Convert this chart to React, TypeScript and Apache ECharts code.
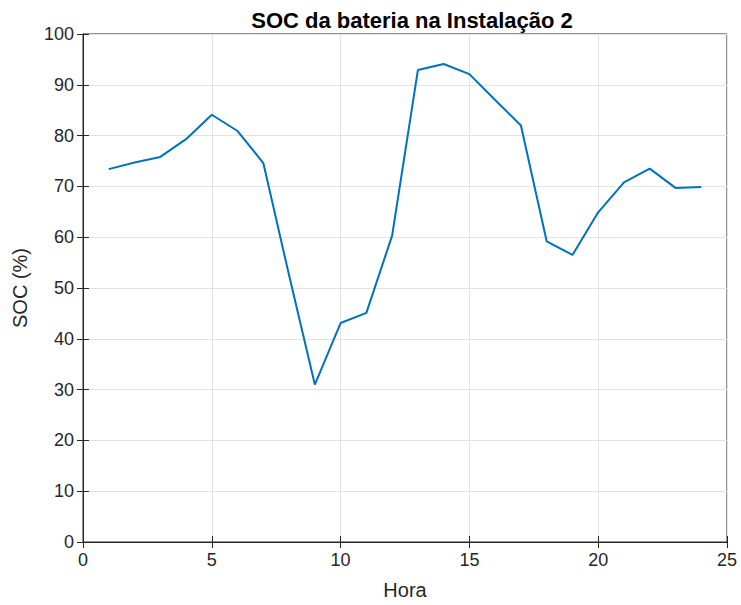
import React, { useEffect, useRef } from "react";
import * as echarts from "echarts";

const hours = [1, 2, 3, 4, 5, 6, 7, 8, 9, 10, 11, 12, 13, 14, 15, 16, 17, 18, 19, 20, 21, 22, 23, 24];
const soc = [73.4, 74.7, 75.8, 79.3, 84.1, 80.9, 74.6, 52.5, 31.0, 43.1, 45.1, 60.3, 92.9, 94.1, 92.1, 87.0, 82.0, 59.2, 56.5, 64.9, 70.8, 73.5, 69.7, 69.9];
const titleText = "SOC da bateria na Instalação 2";
const xName = "Hora";
const yName = "SOC (%)";

const FONT = "'Liberation Sans', Arial, Helvetica, sans-serif";
const AX = "#262626";

export default function App() {
  const ref = useRef<HTMLDivElement>(null);
  useEffect(() => {
    const chart = echarts.init(ref.current!, null, { renderer: "svg" });
    const gridLine = { show: true, lineStyle: { color: "#e3e3e3", width: 1 } };
    chart.setOption({
      animation: false,
      backgroundColor: "#ffffff",
      title: {
        text: titleText,
        left: 407,
        textAlign: "center",
        top: 4,
        textStyle: { fontFamily: FONT, fontSize: 22, fontWeight: "bold", color: "#000" },
      },
      grid: { left: 83, right: 14, top: 34, bottom: 61, show: true, borderColor: AX, borderWidth: 1 },
      xAxis: [
        {
          type: "value",
          min: 0,
          max: 25,
          interval: 5,
          name: xName,
          nameLocation: "middle",
          nameGap: 38,
          nameTextStyle: { fontFamily: FONT, fontSize: 20, color: AX },
          axisLine: { show: true, lineStyle: { color: AX } },
          axisTick: { show: true, inside: true, length: 6, lineStyle: { color: AX } },
          axisLabel: { fontFamily: FONT, fontSize: 18, color: AX, margin: 9 },
          splitLine: gridLine,
        },
        {
          type: "value",
          position: "top",
          min: 0,
          max: 25,
          interval: 5,
          axisLine: { show: true, lineStyle: { color: AX } },
          axisTick: { show: true, inside: true, length: 6, lineStyle: { color: AX } },
          axisLabel: { show: false },
          splitLine: { show: false },
        },
      ],
      yAxis: [
        {
          type: "value",
          min: 0,
          max: 100,
          interval: 10,
          name: yName,
          nameLocation: "middle",
          nameGap: 53,
          nameTextStyle: { fontFamily: FONT, fontSize: 20, color: AX },
          axisLine: { show: true, lineStyle: { color: AX } },
          axisTick: { show: true, inside: true, length: 6, lineStyle: { color: AX } },
          axisLabel: { fontFamily: FONT, fontSize: 18, color: AX, margin: 9 },
          splitLine: gridLine,
        },
        {
          type: "value",
          position: "right",
          min: 0,
          max: 100,
          interval: 10,
          axisLine: { show: true, lineStyle: { color: AX } },
          axisTick: { show: true, inside: true, length: 6, lineStyle: { color: AX } },
          axisLabel: { show: false },
          splitLine: { show: false },
        },
      ],
      series: [
        {
          type: "line",
          data: hours.map((h, i) => [h, soc[i]]),
          xAxisIndex: 0,
          yAxisIndex: 0,
          showSymbol: false,
          symbol: "none",
          lineStyle: { color: "#0072BD", width: 2 },
        },
      ],
    });
    return () => chart.dispose();
  }, []);
  return <div ref={ref} style={{ width: 741, height: 605, position: "absolute", left: 0, top: 0 }} />;
}
